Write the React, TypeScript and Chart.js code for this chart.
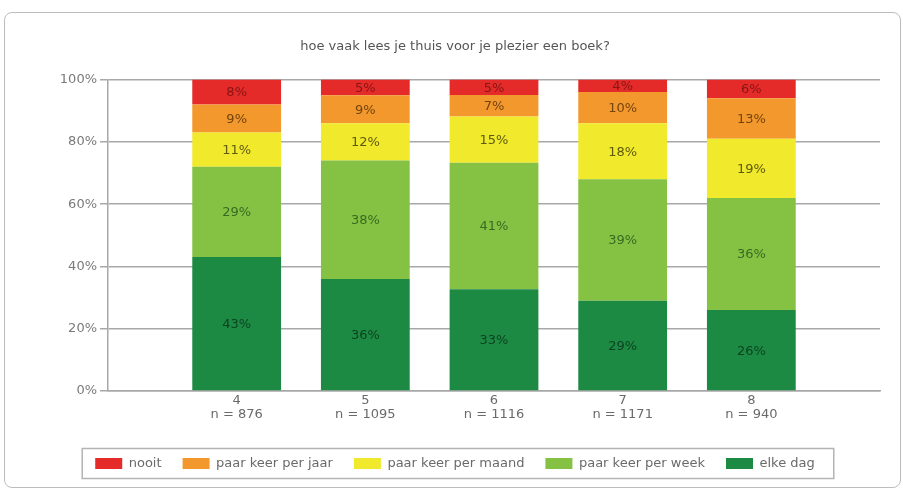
import React, { useEffect, useRef } from "react";
import { Chart, registerables } from "chart.js";

Chart.register(...registerables);

const titleText = "hoe vaak lees je thuis voor je plezier een boek?";
const categories = ["4", "5", "6", "7", "8"];
const nValues = [876, 1095, 1116, 1171, 940];

const seriesNames = ["elke dag", "paar keer per week", "paar keer per maand", "paar keer per jaar", "nooit"];
const elkeDag = [43, 36, 33, 29, 26];
const paarKeerPerWeek = [29, 38, 41, 39, 36];
const paarKeerPerMaand = [11, 12, 15, 18, 19];
const paarKeerPerJaar = [9, 9, 7, 10, 13];
const nooit = [8, 5, 5, 4, 6];

const yTicks = [0, 20, 40, 60, 80, 100];

const seriesColors = ["#1d8a44", "#85c243", "#f1e92b", "#f3982c", "#e52a2a"];
const labelColors = ["#0b4320", "#356c22", "#5e5a10", "#74440f", "#861614"];

const FONT = "'DejaVu Sans', Verdana, sans-serif";

export default function App() {
  const canvasRef = useRef<HTMLCanvasElement | null>(null);

  useEffect(() => {
    const canvas = canvasRef.current;
    if (!canvas) return;
    const allSeries = [elkeDag, paarKeerPerWeek, paarKeerPerMaand, paarKeerPerJaar, nooit];
    const totals = categories.map((_, i) => allSeries.reduce((s, arr) => s + arr[i], 0));

    const datasets = allSeries.map((arr, si) => ({
      label: seriesNames[si],
      data: arr.map((v, i) => ({ x: i, y: (v / totals[i]) * 100 })),
      rawValues: arr,
      backgroundColor: seriesColors[si],
      borderWidth: 0,
      barPercentage: 0.69,
      categoryPercentage: 1,
    }));

    const labelPlugin = {
      id: "segLabels",
      afterDatasetsDraw(chart: any) {
        const ctx = chart.ctx;
        ctx.save();
        ctx.font = `13px ${FONT}`;
        ctx.textAlign = "center";
        ctx.textBaseline = "middle";
        chart.data.datasets.forEach((ds: any, di: number) => {
          const meta = chart.getDatasetMeta(di);
          meta.data.forEach((el: any, i: number) => {
            const yMid = (el.y + el.base) / 2;
            ctx.fillStyle = labelColors[di];
            ctx.fillText(ds.rawValues[i] + "%", el.x, yMid + 1);
          });
        });
        ctx.restore();
      },
    };

    const legendBoxPlugin = {
      id: "legendBox",
      afterDraw(chart: any) {
        const lg = chart.legend;
        if (!lg || !lg.legendHitBoxes || !lg.legendHitBoxes.length) return;
        const hb = lg.legendHitBoxes;
        const left = Math.min(...hb.map((h: any) => h.left)) - 13;
        const right = Math.max(...hb.map((h: any) => h.left + h.width)) + 19;
        const cy = hb[0].top + hb[0].height / 2;
        const ctx = chart.ctx;
        ctx.save();
        ctx.strokeStyle = "#b4b4b4";
        ctx.lineWidth = 1.5;
        ctx.strokeRect(left, cy - 15, right - left, 30);
        ctx.restore();
      },
    };

    const chart = new Chart(canvas, {
      type: "bar",
      data: { datasets: datasets as any },
      plugins: [labelPlugin, legendBoxPlugin],
      options: {
        animation: false,
        responsive: false,
        maintainAspectRatio: false,
        layout: { padding: { left: 30, right: 23, top: 0, bottom: 11 } },
        plugins: {
          title: {
            display: true,
            text: titleText,
            color: "#555",
            font: { family: FONT, size: 13, weight: "normal" },
            padding: { top: 39, bottom: 25 },
          },
          legend: {
            position: "bottom",
            reverse: true,
            labels: {
              boxWidth: 27,
              boxHeight: 11,
              padding: 21,
              color: "#6a6a6a",
              font: { family: FONT, size: 13 },
            },
          },
          tooltip: { enabled: false },
        },
        scales: {
          x: {
            type: "linear",
            stacked: true,
            offset: false,
            min: -1,
            max: 5,
            grid: { display: false, drawTicks: false },
            border: { display: true, color: "#a8a8a8", width: 1.5 },
            afterFit(scale: any) {
              scale.height = 45;
            },
            afterBuildTicks(scale: any) {
              scale.ticks = [-1, 0, 1, 2, 3, 4, 5].map((v) => ({ value: v }));
            },
            ticks: {
              autoSkip: false,
              maxRotation: 0,
              color: "#6a6a6a",
              padding: 2,
              font: { family: FONT, size: 13, lineHeight: 1.1 },
              callback(value: any) {
                const i = Number(value);
                if (i >= 0 && i < categories.length && Number.isInteger(i)) {
                  return [categories[i], "n = " + nValues[i]];
                }
                return "";
              },
            },
          },
          y: {
            stacked: true,
            min: 0,
            max: 100,
            afterFit(scale: any) {
              scale.width = 78;
            },
            afterBuildTicks(scale: any) {
              scale.ticks = yTicks.map((v) => ({ value: v }));
            },
            grid: { color: "#a8a8a8", lineWidth: 1.5, tickLength: 8 },
            border: { display: true, color: "#a8a8a8", width: 1.5 },
            ticks: {
              color: "#7a7a7a",
              padding: 3,
              font: { family: FONT, size: 13 },
              callback(value: any) {
                return value + "%";
              },
            },
          },
        },
      } as any,
    });
    return () => chart.destroy();
  }, []);

  return (
    <div style={{ position: "fixed", left: 0, top: 0, width: 903, height: 491, background: "#fff" }}>
      <div
        style={{
          position: "absolute",
          left: 4,
          top: 12,
          width: 897,
          height: 476,
          border: "1.5px solid #bdbdbd",
          borderRadius: 8,
          boxSizing: "border-box",
        }}
      />
      <canvas ref={canvasRef} width={903} height={491} style={{ position: "absolute", left: 0, top: 0, width: 903, height: 491 }} />
    </div>
  );
}
